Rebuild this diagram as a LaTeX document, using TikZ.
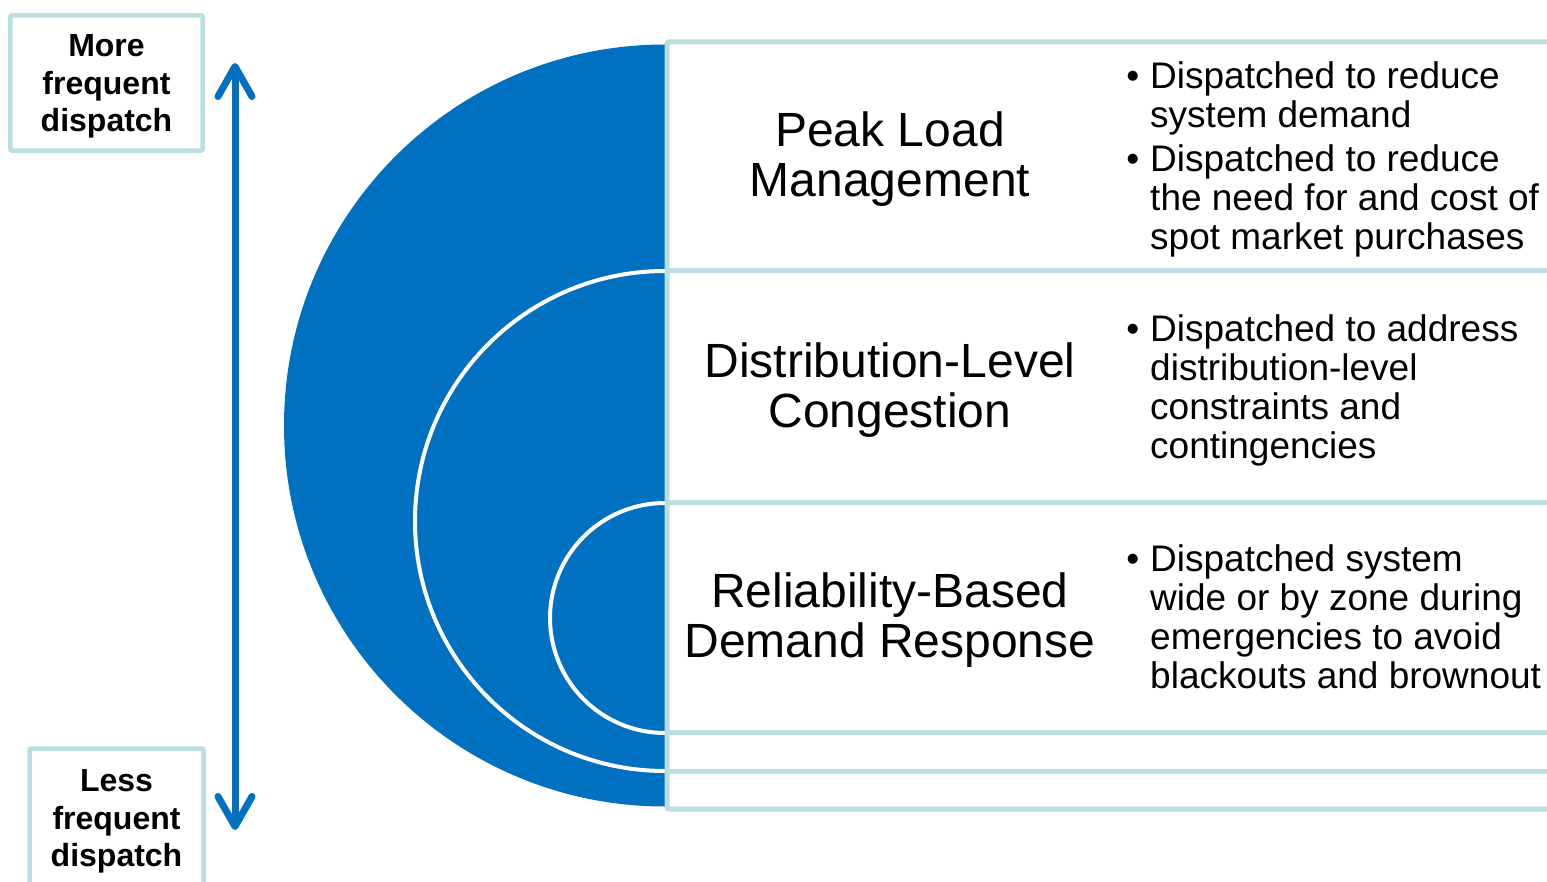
\documentclass[tikz,border=0pt]{standalone}
\usepackage{fontspec}
\setmainfont{Liberation Sans}
\usetikzlibrary{arrows.meta}
\definecolor{dblue}{HTML}{0070C0}
\definecolor{lblue}{HTML}{BADFE2}
\begin{document}
\begin{tikzpicture}[x=1pt,y=-1pt,
  lbox/.style={draw=lblue, line width=4.5pt, rounded corners=2pt, align=center,
    font=\fontsize{32}{37.5}\selectfont\bfseries, inner sep=0pt, text depth=-1pt},
  head/.style={align=center, font=\fontsize{48}{50}\selectfont, anchor=base, inner sep=0pt},
  bul/.style={align=left, font=\fontsize{37}{39}\selectfont, anchor=base west, inner sep=0pt},
  panel/.style={draw=lblue, line width=5pt},
  ring/.style={draw=white, line width=4pt},
  barb/.tip={Straight Barb[length=30pt, width=34pt, round]}]
\useasboundingbox (0,0) rectangle (1547,882);
% half discs
\fill[dblue] (665,806.5) arc[start angle=90, end angle=270, radius=381] -- cycle;
\draw[ring] (665,771) arc[start angle=90, end angle=270, radius=250];
\draw[ring] (665,733) arc[start angle=90, end angle=270, radius=115];
% panel
\draw[panel, rounded corners=2pt] (1560,42) -- (667,42) -- (667,809) -- (1560,809);
\draw[panel] (667,271) -- (1560,271);
\draw[panel] (667,502) -- (1560,502);
\draw[panel] (667,732.5) -- (1560,732.5);
\draw[panel] (667,771) -- (1560,771);
% headings (anchor base = last line baseline)
\node[head] (plm) at (890,197) {Peak Load\\Management};
\node[head] (dlc) at (890,427) {Distribution-Level\\Congestion};
\node[head] (rbd) at (890,657) {Reliability-Based\\Demand Response};
% bullets
\node[bul] (b1) at (1150,250) {\llap{•\hspace{11pt}}Dispatched to reduce\\system demand\\[5pt]\llap{•\hspace{11pt}}Dispatched to reduce\\the need for and cost of\\spot market purchases};
\node[bul] (b2) at (1150,458) {\llap{•\hspace{11pt}}Dispatched to address\\distribution-level\\constraints and\\contingencies};
\node[bul] (b3) at (1150,688) {\llap{•\hspace{11pt}}Dispatched system\\wide or by zone during\\emergencies to avoid\\blackouts and brownout};
% left boxes
\node[lbox, minimum width=192.4pt, minimum height=135.4pt] (more) at (106.5,83) {More\\frequent\\dispatch};
\node[lbox, minimum width=174pt, minimum height=139pt] (less) at (116.5,818) {Less\\frequent\\dispatch};
% arrow
\coordinate (atop) at (235,63);
\coordinate (abot) at (235,830);
\draw[dblue, line width=7pt, barb-barb] (atop) -- (abot);
\end{tikzpicture}
\end{document}
